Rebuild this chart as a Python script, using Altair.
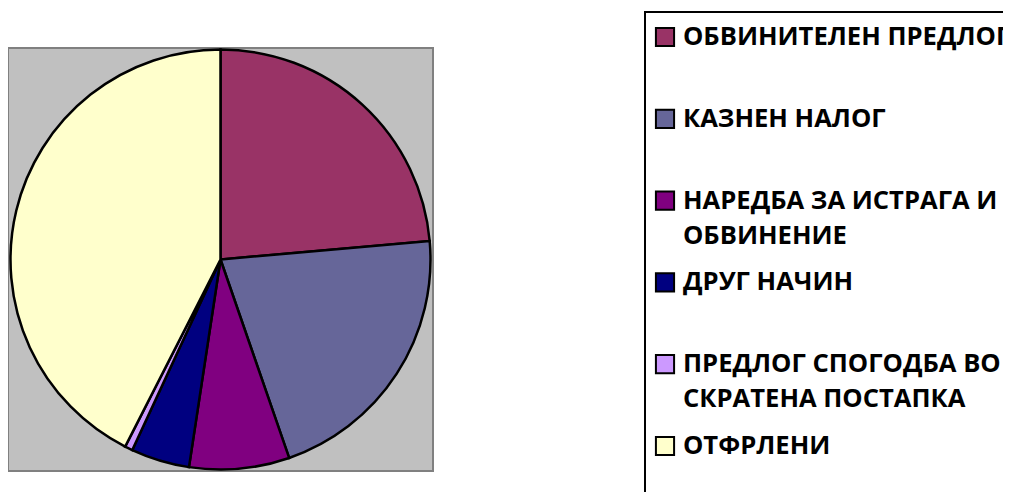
import altair as alt
import pandas as pd

categories = [
    "ОБВИНИТЕЛЕН ПРЕДЛОГ",
    "КАЗНЕН НАЛОГ",
    "НАРЕДБА ЗА ИСТРАГА И ОБВИНЕНИЕ",
    "ДРУГ НАЧИН",
    "ПРЕДЛОГ СПОГОДБА ВО СКРАТЕНА ПОСТАПКА",
    "ОТФРЛЕНИ",
]
values = [23.6, 21.1, 7.7, 4.5, 0.6, 42.5]
label_line1 = ["ОБВИНИТЕЛЕН ПРЕДЛОГ", "КАЗНЕН НАЛОГ", "НАРЕДБА ЗА ИСТРАГА И",
               "ДРУГ НАЧИН", "ПРЕДЛОГ СПОГОДБА ВО", "ОТФРЛЕНИ"]
label_line2 = ["", "", "ОБВИНЕНИЕ", "", "СКРАТЕНА ПОСТАПКА", ""]
colors = ["#993366", "#666699", "#800080", "#000080", "#CC99FF", "#FFFFCC"]

df = pd.DataFrame({
    "category": categories,
    "value": values,
    "idx": list(range(len(categories))),
    "line1": label_line1,
    "line2": label_line2,
})

color_scale = alt.Scale(domain=categories, range=colors)
FONT = "Open Sans"

pie = alt.Chart(df).mark_arc(radius=210, stroke="black", strokeWidth=2.5).encode(
    theta=alt.Theta("value:Q", stack=True),
    color=alt.Color("category:N", scale=color_scale, legend=None),
    order=alt.Order("idx:Q", sort="ascending"),
)

legend_box = alt.Chart(df).mark_rect(fill=None, stroke="black", strokeWidth=2).encode(
    x=alt.value(637), x2=alt.value(1200), y=alt.value(-36), y2=alt.value(700)
)

ypos = alt.Y("idx:Q", scale=alt.Scale(domain=[0, 5], range=[-11, 398]), axis=None)

squares = alt.Chart(df).mark_point(
    shape="square", filled=True, size=330, stroke="black", strokeWidth=2, opacity=1
).encode(
    x=alt.value(657),
    y=ypos,
    fill=alt.Color("category:N", scale=color_scale, legend=None),
    color=alt.value("black"),
)

text1 = alt.Chart(df).mark_text(
    align="left", baseline="middle", font=FONT, fontWeight="bold", fontSize=25.6, color="black"
).encode(x=alt.value(675), y=ypos, text="line1:N")

text2 = alt.Chart(df).mark_text(
    align="left", baseline="middle", font=FONT, fontWeight="bold", fontSize=25.6, color="black", dy=35
).encode(x=alt.value(675), y=ypos, text="line2:N")

chart = alt.layer(pie, legend_box, squares, text1, text2).resolve_scale(
    color="independent"
).properties(
    width=425,
    height=423,
    autosize=alt.AutoSizeParams(type="none"),
    padding={"left": 0, "top": 40, "right": 570, "bottom": 21},
    background="white",
).configure_view(
    fill="#C0C0C0", stroke="#808080", strokeWidth=2
)

chart.save("out.html", embed_options={"renderer": "svg", "actions": False})
